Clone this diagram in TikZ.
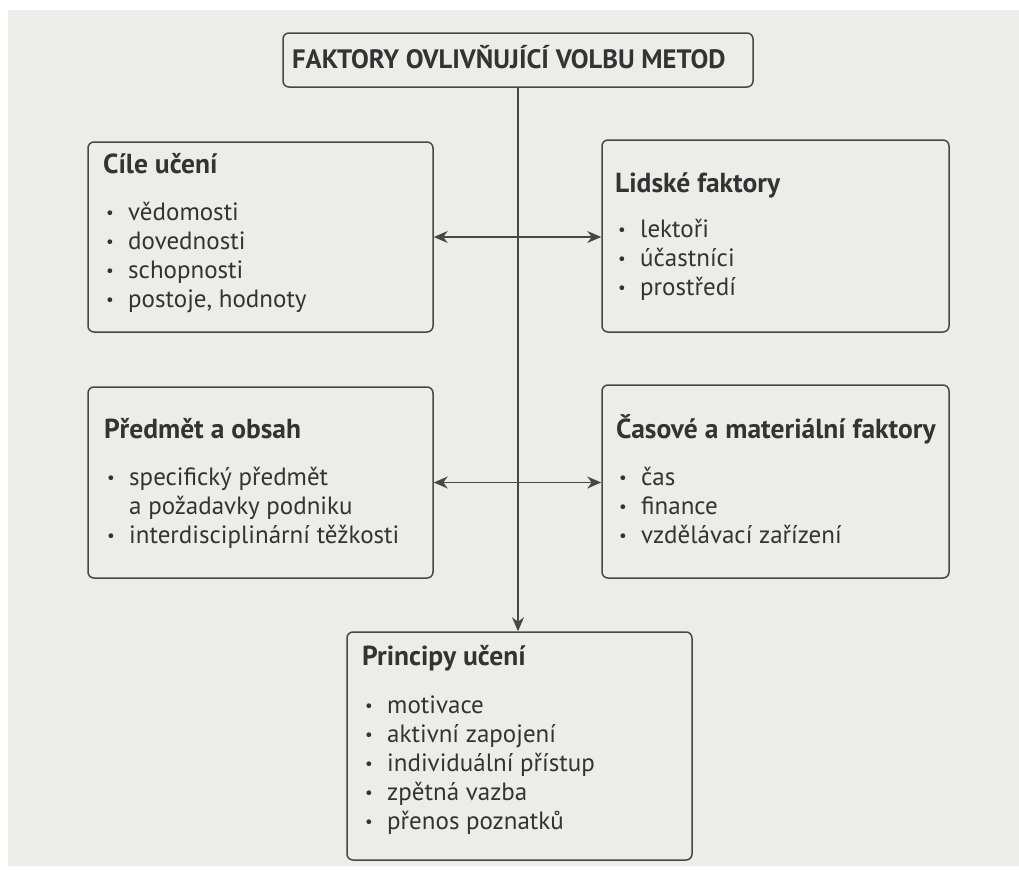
\documentclass[tikz,border=0pt]{standalone}
\usepackage{fontspec}
\setmainfont{PT Sans}
\usetikzlibrary{arrows.meta}

\definecolor{paper}{HTML}{ECECE9}
\definecolor{ink}{HTML}{333333}
\definecolor{rule}{HTML}{474747}

% bullet column of the item lists
\newcommand{\itm}{\makebox[25pt][l]{\hspace{3pt}\raisebox{1.5pt}{\fontsize{17}{17}\selectfont\textbullet}}}
\newcommand{\noitm}{\makebox[25pt]{}}

\tikzset{
  frame/.style={draw=rule, line width=1.5pt, rounded corners=6pt, inner sep=0pt},
  heading/.style={anchor=base west, inner sep=0pt, text=ink,
    font=\fontsize{27.5}{30}\selectfont\bfseries},
  itemlist/.style={anchor=base west, inner sep=0pt, text=ink,
    font=\fontsize{25}{29}\selectfont},
  tip/.tip={Stealth[length=14pt,width=12pt,inset=4.5pt]},
  link/.style={draw=rule, line width=1.5pt, -tip},
  duplex/.style={draw=rule, line width=1.5pt, tip-tip}
}

\begin{document}
\begin{tikzpicture}[x=1pt,y=-1pt]
  \useasboundingbox (0,0) rectangle (1019,870);
  \fill[paper] (8,10) rectangle (1019,866);

  % frames
  \node[frame, minimum width=470pt, minimum height=54pt]  (title)    at (518,60)      {};
  \node[frame, minimum width=345pt, minimum height=190pt] (cile)     at (260.5,237)   {};
  \node[frame, minimum width=347pt, minimum height=192pt] (lidske)   at (775.5,236)   {};
  \node[frame, minimum width=345pt, minimum height=191pt] (predmet)  at (260.5,482.5) {};
  \node[frame, minimum width=347pt, minimum height=193pt] (casove)   at (775.5,481.5) {};
  \node[frame, minimum width=345pt, minimum height=228pt] (principy) at (519.5,746)   {};

  % connectors
  \draw[link] (title.south) -- (title.south |- principy.north);
  \draw[duplex] (cile.east) -- (cile.east -| lidske.west);
  \draw[duplex] (predmet.east) -- (predmet.east -| casove.west);

  % texts
  \node[heading, font=\fontsize{26.6}{30}\selectfont\bfseries] (titletext) at (292,68)
    {FAKTORY OVLIVŇUJÍCÍ VOLBU METOD};

  \node[heading] (cilehead) at (103,173) {Cíle učení};
  \node[itemlist] (cileitems) at (103,220) {\begin{tabular}[t]{@{}l@{}l@{}}
    \itm & vědomosti\\
    \itm & dovednosti\\
    \itm & schopnosti\\
    \itm & postoje, hodnoty
  \end{tabular}};

  \node[heading] (lidskehead) at (615,192) {Lidské faktory};
  \node[itemlist] (lidskeitems) at (615,237) {\begin{tabular}[t]{@{}l@{}l@{}}
    \itm & lektoři\\
    \itm & účastníci\\
    \itm & prostředí
  \end{tabular}};

  \node[heading] (predmethead) at (104,438) {Předmět a obsah};
  \node[itemlist] (predmetitems) at (104,485) {\begin{tabular}[t]{@{}l@{}l@{}}
    \itm & specifický předmět\\
    \noitm & a požadavky podniku\\
    \itm & interdisciplinární těžkosti
  \end{tabular}};

  \node[heading] (casovehead) at (616,438) {Časové a materiální faktory};
  \node[itemlist] (casoveitems) at (616,485) {\begin{tabular}[t]{@{}l@{}l@{}}
    \itm & čas\\
    \itm & finance\\
    \itm & vzdělávací zařízení
  \end{tabular}};

  \node[heading] (principyhead) at (362,665) {Principy učení};
  \node[itemlist] (principyitems) at (362,713) {\begin{tabular}[t]{@{}l@{}l@{}}
    \itm & motivace\\
    \itm & aktivní zapojení\\
    \itm & individuální přístup\\
    \itm & zpětná vazba\\
    \itm & přenos poznatků
  \end{tabular}};
\end{tikzpicture}
\end{document}
